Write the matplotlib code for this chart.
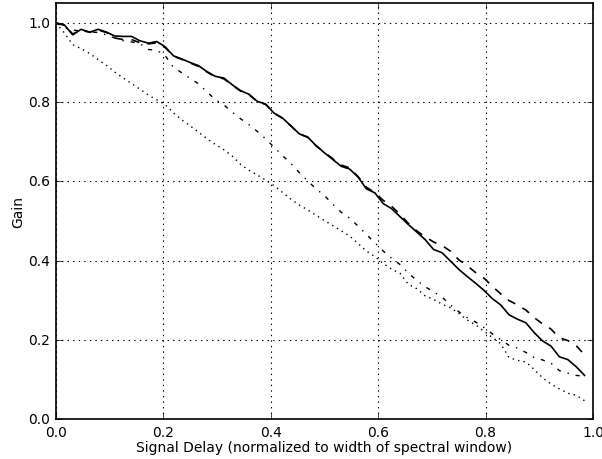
import matplotlib

matplotlib.use("Agg")
import matplotlib.pyplot as plt

# delay samples (i/64 of the spectral window)
delay = [
    0.0, 0.015625, 0.03125, 0.046875, 0.0625, 0.078125, 0.09375, 0.109375,
    0.125, 0.140625, 0.15625, 0.171875, 0.1875, 0.203125, 0.21875, 0.234375,
    0.25, 0.265625, 0.28125, 0.296875, 0.3125, 0.328125, 0.34375, 0.359375,
    0.375, 0.390625, 0.40625, 0.421875, 0.4375, 0.453125, 0.46875, 0.484375,
    0.5, 0.515625, 0.53125, 0.546875, 0.5625, 0.578125, 0.59375, 0.609375,
    0.625, 0.640625, 0.65625, 0.671875, 0.6875, 0.703125, 0.71875, 0.734375,
    0.75, 0.765625, 0.78125, 0.796875, 0.8125, 0.828125, 0.84375, 0.859375,
    0.875, 0.890625, 0.90625, 0.921875, 0.9375, 0.953125, 0.96875, 0.984375,
]

gain_solid = [
    1.000, 0.995, 0.970, 0.984, 0.976, 0.984, 0.977, 0.967,
    0.966, 0.966, 0.955, 0.949, 0.953, 0.940, 0.917, 0.909,
    0.900, 0.892, 0.877, 0.865, 0.861, 0.844, 0.829, 0.820,
    0.802, 0.795, 0.772, 0.760, 0.740, 0.720, 0.712, 0.690,
    0.672, 0.655, 0.638, 0.631, 0.611, 0.581, 0.571, 0.544,
    0.531, 0.511, 0.491, 0.472, 0.453, 0.428, 0.420, 0.399,
    0.378, 0.360, 0.343, 0.325, 0.304, 0.288, 0.263, 0.252,
    0.243, 0.218, 0.197, 0.184, 0.157, 0.150, 0.132, 0.110,
]

gain_dashed = [
    1.000, 0.994, 0.972, 0.983, 0.977, 0.982, 0.976, 0.962,
    0.958, 0.958, 0.950, 0.947, 0.950, 0.938, 0.916, 0.908,
    0.899, 0.890, 0.876, 0.864, 0.859, 0.843, 0.828, 0.819,
    0.801, 0.794, 0.772, 0.759, 0.740, 0.720, 0.711, 0.690,
    0.673, 0.657, 0.641, 0.634, 0.612, 0.585, 0.572, 0.552,
    0.537, 0.517, 0.494, 0.475, 0.460, 0.447, 0.438, 0.424,
    0.402, 0.387, 0.370, 0.356, 0.335, 0.316, 0.299, 0.288,
    0.275, 0.256, 0.240, 0.227, 0.205, 0.198, 0.185, 0.162,
]

gain_dashdot = [
    1.000, 0.988, 0.982, 0.980, 0.977, 0.976, 0.970, 0.962,
    0.955, 0.952, 0.948, 0.933, 0.931, 0.918, 0.888, 0.874,
    0.860, 0.846, 0.826, 0.806, 0.793, 0.775, 0.758, 0.743,
    0.726, 0.707, 0.686, 0.665, 0.645, 0.622, 0.601, 0.581,
    0.564, 0.542, 0.522, 0.507, 0.487, 0.466, 0.445, 0.424,
    0.406, 0.390, 0.368, 0.350, 0.334, 0.321, 0.308, 0.288,
    0.271, 0.256, 0.245, 0.231, 0.215, 0.200, 0.186, 0.179,
    0.168, 0.155, 0.149, 0.141, 0.122, 0.116, 0.110, 0.108,
]

gain_dotted = [
    1.000, 0.975, 0.945, 0.935, 0.923, 0.908, 0.893, 0.876,
    0.861, 0.847, 0.833, 0.818, 0.806, 0.794, 0.773, 0.755,
    0.740, 0.724, 0.708, 0.693, 0.680, 0.664, 0.643, 0.628,
    0.616, 0.603, 0.589, 0.572, 0.555, 0.540, 0.528, 0.514,
    0.501, 0.488, 0.475, 0.462, 0.443, 0.424, 0.410, 0.393,
    0.378, 0.368, 0.340, 0.329, 0.311, 0.302, 0.290, 0.281,
    0.267, 0.250, 0.238, 0.222, 0.206, 0.190, 0.155, 0.148,
    0.144, 0.125, 0.104, 0.088, 0.076, 0.065, 0.060, 0.046,
]

ticks = [0.0, 0.2, 0.4, 0.6, 0.8, 1.0]


def main() -> None:
    plt.style.use("classic")
    plt.rcParams["font.family"] = "DejaVu Sans"
    plt.rcParams["font.size"] = 10

    fig = plt.figure(figsize=(6.02, 4.6), dpi=100, facecolor="white")
    ax = fig.add_axes([0.093, 0.087, 0.892, 0.904])
    ax.set_facecolor("white")

    ax.plot(delay, gain_solid, color="black", linestyle="-", linewidth=1.2)
    ax.plot(delay, gain_dashed, color="black", linestyle="--", linewidth=1.2)
    ax.plot(delay, gain_dashdot, color="black", linestyle="-.", linewidth=1.0)
    ax.plot(delay, gain_dotted, color="black", linestyle=":", linewidth=1.0)

    ax.set_xlim(0.0, 1.0)
    ax.set_ylim(0.0, 1.05)
    ax.set_xticks(ticks)
    ax.set_yticks(ticks)
    ax.grid(True, color="black", linestyle=":", linewidth=0.8)
    ax.tick_params(labelsize=10)
    for spine in ax.spines.values():
        spine.set_linewidth(1.2)

    ax.set_xlabel("Signal Delay (normalized to width of spectral window)", fontsize=10, labelpad=1)
    ax.set_ylabel("Gain", fontsize=10, labelpad=2)

    fig.savefig("out.png", dpi=100, facecolor="white")
    plt.close(fig)


if __name__ == "__main__":
    main()
